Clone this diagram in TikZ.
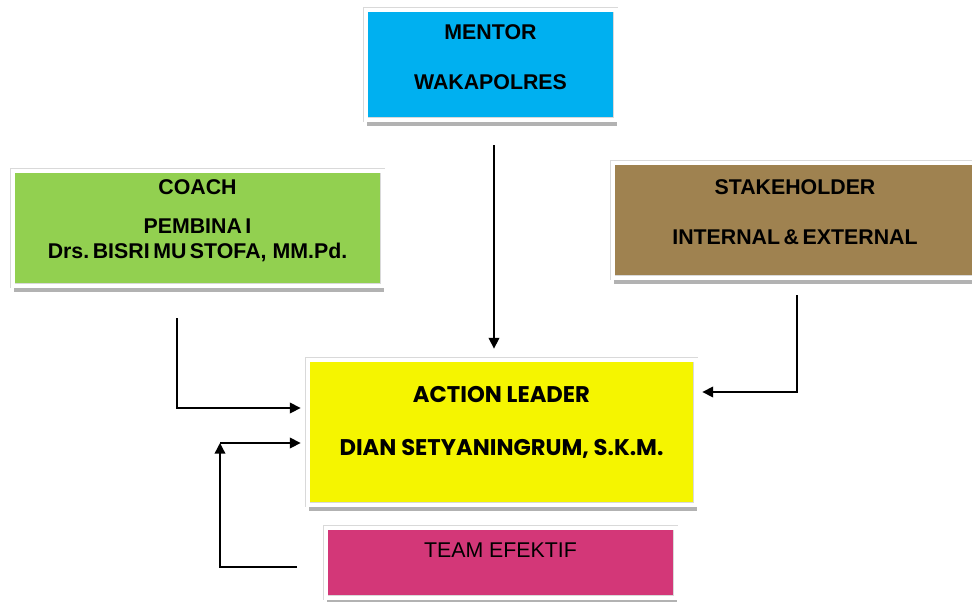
\documentclass[tikz,border=0pt]{standalone}
\usepackage{fontspec}
\setmainfont{Liberation Sans}
\newfontfamily\gothic{Poppins}
\usepackage{tikz}
\usetikzlibrary{arrows.meta,shadows}

\definecolor{mentorblue}{HTML}{00B0F0}
\definecolor{coachgreen}{HTML}{92D050}
\definecolor{stakebrown}{HTML}{9F8250}
\definecolor{leaderyellow}{HTML}{F5F500}
\definecolor{teampink}{HTML}{D33778}

\begin{document}
\begin{tikzpicture}[
x=0.75pt, y=-0.75pt,
box/.style={rectangle, inner sep=0pt, align=center, draw=black!15, line width=0.375pt,
  double=white, double distance=3pt,
  drop shadow={shadow xshift=0.8pt, shadow yshift=-5pt, opacity=0.5, fill=black!60},
  font=\fontsize{16}{19}\selectfont\bfseries},
link/.style={line width=1.1pt, -{Triangle[length=8pt,width=8pt]}}
]
\useasboundingbox (0,0) rectangle (972,601);
\clip (0,0) rectangle (972,601);
%Nodes
\node[box, fill=leaderyellow, minimum width=291pt, minimum height=108.75pt, text depth=17pt,
      font=\gothic\fontsize{17}{20}\selectfont\bfseries]
      (leader) at (501.5,432)   {ACTION LEADER\\[20pt] DIAN SETYANINGRUM, S.K.M.};
\node[box, fill=mentorblue, minimum width=187.5pt, minimum height=82.5pt, text depth=10.5pt]
      (mentor) at (490.5,64.5)  {MENTOR\\[18.5pt] WAKAPOLRES};
\node[box, fill=coachgreen, minimum width=277.5pt, minimum height=86.25pt, text depth=13pt]
      (coach)  at (197.5,228)   {COACH\\[10pt] PEMBINA\,I\\ Drs.\,BISRI\,MU\,STOFA, MM.Pd.};
\node[box, fill=stakebrown, minimum width=273.75pt, minimum height=86.25pt, text depth=12pt]
      (stake)  at (795,220)     {STAKEHOLDER\\[18.5pt] INTERNAL\,\&\,EXTERNAL};
\node[box, fill=teampink, minimum width=262.5pt, minimum height=52.5pt, text depth=18pt,
      font=\fontsize{16}{19}\selectfont]
      (team)   at (500.5,562.5) {TEAM EFEKTIF};
%Free ends
\coordinate (m1) at (494,145);
\coordinate (c1) at (177,318);
\coordinate (s1) at (797,295);
\coordinate (t1) at (297,567);
\coordinate (t2) at (220,443);
%Lines
\draw[link, shorten >=8pt] (m1) -- (m1 |- leader.north);
\draw[link, shorten >=5pt] (c1) |- ([yshift=18pt]leader.west);
\draw[link, shorten >=5pt] (s1) |- ([yshift=30pt]leader.east);
\draw[link] (t1) -| (t2);
\draw[link, shorten >=5pt] (t2) -- (t2 -| leader.west);
\end{tikzpicture}
\end{document}
